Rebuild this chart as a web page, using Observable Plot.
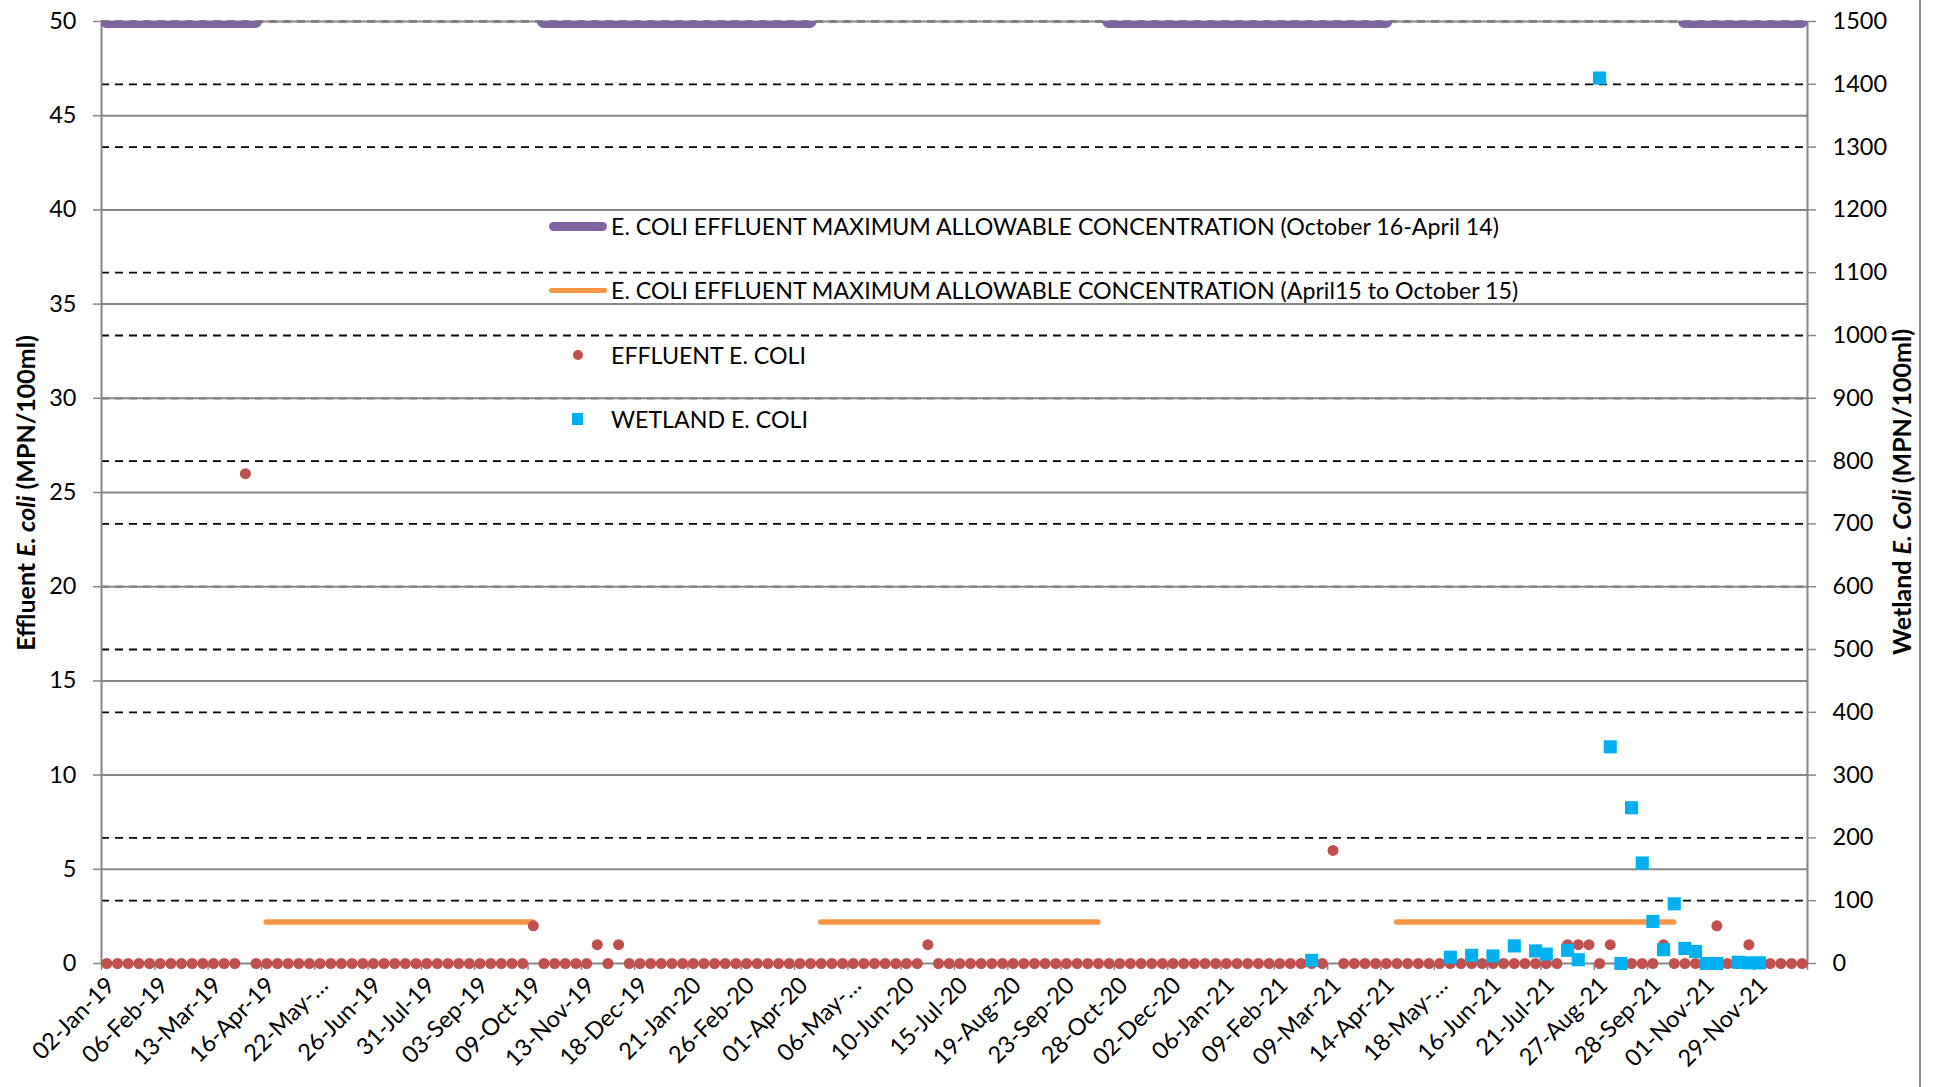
<!DOCTYPE html>
<html><head><meta charset="utf-8">
<script src="https://cdn.jsdelivr.net/npm/d3@7"></script>
<script src="https://cdn.jsdelivr.net/npm/@observablehq/plot@0.6"></script>
<style>
body{margin:0;background:#fff;font-family:Lato, sans-serif;}
#wrap{position:relative;width:1934px;height:1087px;overflow:hidden;background:#fff;}
#wrap svg{position:absolute;left:0;top:0;}
.ytitle{position:absolute;font-weight:bold;font-size:25px;white-space:nowrap;transform:translate(-50%,-50%) rotate(-90deg);color:#000;}
.leg{position:absolute;left:0;top:0;font-size:23.2px;color:#000;}
.leg .row{position:absolute;left:0;white-space:nowrap;transform:translateY(-50%);}
.leg .sw{position:absolute;}
#border{position:absolute;left:1919px;top:0;width:2px;height:1087px;background:#8a8a8a;}
</style></head><body><div id="wrap"></div>
<script>
// Category axis: one category per sample date; every 5th date is labelled
const tickLabels = ["02-Jan-19","06-Feb-19","13-Mar-19","16-Apr-19","22-May-…","26-Jun-19","31-Jul-19","03-Sep-19","09-Oct-19","13-Nov-19","18-Dec-19","21-Jan-20","26-Feb-20","01-Apr-20","06-May-…","10-Jun-20","15-Jul-20","19-Aug-20","23-Sep-20","28-Oct-20","02-Dec-20","06-Jan-21","09-Feb-21","09-Mar-21","14-Apr-21","18-May-…","16-Jun-21","21-Jul-21","27-Aug-21","28-Sep-21","01-Nov-21","29-Nov-21"];
const labelEvery = 5;

// Effluent E. coli (MPN/100ml), one value per category (160 categories)
const effluent = [
  0,0,0,0,0,0,0,0,0,0,0,0,0,26,0,0,0,0,0,0,
  0,0,0,0,0,0,0,0,0,0,0,0,0,0,0,0,0,0,0,0,
  2,0,0,0,0,0,1,0,1,0,0,0,0,0,0,0,0,0,0,0,
  0,0,0,0,0,0,0,0,0,0,0,0,0,0,0,0,0,1,0,0,
  0,0,0,0,0,0,0,0,0,0,0,0,0,0,0,0,0,0,0,0,
  0,0,0,0,0,0,0,0,0,0,0,0,0,0,0,6,0,0,0,0,
  0,0,0,0,0,0,0,0,0,0,0,0,0,0,0,0,0,1,1,1,
  0,1,0,0,0,0,1,0,0,0,0,2,0,0,1,0,0,0,0,0
];

// Wetland E. coli (MPN/100ml): category index and value
const wetlandCat = [113,126,128,130,132,134,135,137,138,140,141,142,143,144,145,146,147,148,149,150,151,153,154,155];
const wetlandVal = [5,10,13,12,28,20,15,21,6,1410,345,0,248,160,67,22,95,24,19,0,0,2,1,1];

// Maximum allowable concentration limits: [first category, last category]
const winterLimit = 50;   // October 16 - April 14
const winterSegments = [[0,14],[41,66],[94,120],[148,159]];
const summerLimit = 2.2;  // April 15 - October 15
const summerSegments = [[15,40],[67,93],[121,147]];

const leftTicks = [0,5,10,15,20,25,30,35,40,45,50];
const rightTicks = [0,100,200,300,400,500,600,700,800,900,1000,1100,1200,1300,1400,1500];
const leftMax = 50, rightMax = 1500;

const legendItems = [
  {label:"E. COLI EFFLUENT MAXIMUM ALLOWABLE CONCENTRATION (October 16-April 14)", kind:"line", color:"#8064A2", w:9},
  {label:"E. COLI EFFLUENT MAXIMUM ALLOWABLE CONCENTRATION (April15 to October 15)", kind:"line", color:"#F79646", w:5},
  {label:"EFFLUENT E. COLI", kind:"dot", color:"#C0504D"},
  {label:"WETLAND E. COLI", kind:"square", color:"#00B0F0"}
];

const W = 1934, H = 1087;
const ML = 101, MR = 127, MT = 21, MB = 124;
const N = effluent.length;
const k = rightMax / leftMax;
const grid = "#868686";

const effRows = effluent.map((v, i) => ({i, v})).filter(d => d.v != null);
const wetRows = wetlandCat.map((c, j) => ({i: c, v: wetlandVal[j]}));
const labelPos = tickLabels.map((_, j) => j * labelEvery + 0.5);
const boundaries = d3.range(0, N + 1, labelEvery);

const chart = Plot.plot({
  width: W, height: H,
  marginLeft: ML, marginRight: MR, marginTop: MT, marginBottom: MB,
  x: {domain: [0, N], axis: null},
  y: {domain: [0, leftMax], axis: null},
  style: {fontFamily: "Lato, sans-serif", fontSize: "23.5px", color: "#000", background: "transparent", overflow: "visible"},
  marks: [
    // dashed secondary gridlines
    Plot.ruleY(rightTicks.filter(t => t > 0), {y: d => d / k, stroke: "#000", strokeWidth: 1.8, strokeDasharray: "8,6"}),
    // solid primary gridlines
    Plot.ruleY(leftTicks, {stroke: grid, strokeWidth: 2}),
    // axis lines
    Plot.ruleX([0, N], {stroke: grid, strokeWidth: 2}),
    // x ticks at category group boundaries
    Plot.axisX({ticks: boundaries, tickSize: 7, tickFormat: () => "", stroke: grid, strokeWidth: 1.5, label: null}),
    Plot.axisX({ticks: labelPos, tickSize: 0, tickPadding: 18, tickRotate: -45, dx: 4,
      tickFormat: d => tickLabels[Math.round((d - 0.5) / labelEvery)], fontSize: 23.5, fill: "#000", label: null}),
    Plot.axisY({anchor: "left", ticks: leftTicks, tickSize: 8, tickPadding: 17, stroke: grid, strokeWidth: 1.5,
      fill: "#000", fontSize: 23.5, label: null}),
    Plot.axisY({anchor: "right", ticks: rightTicks.map(t => t / k), tickSize: 8, tickPadding: 17, stroke: grid, strokeWidth: 1.5,
      tickFormat: d => String(Math.round(d * k)), fill: "#000", fontSize: 23.5, label: null}),
    // limit lines
    Plot.ruleY(winterSegments, {x1: d => d[0] + 0.5, x2: d => d[1] + 0.5, y: () => winterLimit,
      stroke: "#8064A2", strokeWidth: 13, strokeLinecap: "round", clip: true}),
    Plot.ruleY(summerSegments, {x1: d => d[0] + 0.5, x2: d => d[1] + 0.5, y: () => summerLimit,
      stroke: "#F79646", strokeWidth: 5.5, strokeLinecap: "round"}),
    // series
    Plot.dot(effRows, {x: d => d.i + 0.5, y: "v", r: 5.5, fill: "#C0504D"}),
    Plot.dot(wetRows, {x: d => d.i + 0.5, y: d => d.v / k, symbol: "square", r: 7.4, fill: "#00B0F0"})
  ]
});

const wrap = document.getElementById("wrap");
wrap.appendChild(chart);

// axis titles
const lt = document.createElement("div");
lt.className = "ytitle"; lt.style.left = "25px"; lt.style.top = "493px";
lt.innerHTML = "Effluent <i>E. coli</i> (MPN/100ml)";
wrap.appendChild(lt);
const rt = document.createElement("div");
rt.className = "ytitle"; rt.style.left = "1901px"; rt.style.top = "492px";
rt.innerHTML = "Wetland <i>E. Coli</i> (MPN/100ml)";
wrap.appendChild(rt);

// legend
const leg = document.createElement("div");
leg.className = "leg";
const rowY = [226, 290, 355, 419];
legendItems.forEach((it, j) => {
  const sw = document.createElement("div");
  sw.className = "sw";
  if (it.kind === "line") {
    Object.assign(sw.style, {left: "549px", top: (rowY[j] - it.w / 2) + "px", width: "58px", height: it.w + "px",
      background: it.color, borderRadius: (it.w / 2) + "px"});
  } else if (it.kind === "dot") {
    Object.assign(sw.style, {left: "573px", top: (rowY[j] - 5) + "px", width: "10px", height: "10px",
      background: it.color, borderRadius: "50%"});
  } else {
    Object.assign(sw.style, {left: "572px", top: (rowY[j] - 6) + "px", width: "11px", height: "12px", background: it.color});
  }
  leg.appendChild(sw);
  const t = document.createElement("div");
  t.className = "row"; t.textContent = it.label;
  t.style.left = "611px"; t.style.top = rowY[j] + "px";
  leg.appendChild(t);
});
wrap.appendChild(leg);

const b = document.createElement("div"); b.id = "border"; wrap.appendChild(b);
</script></body></html>
